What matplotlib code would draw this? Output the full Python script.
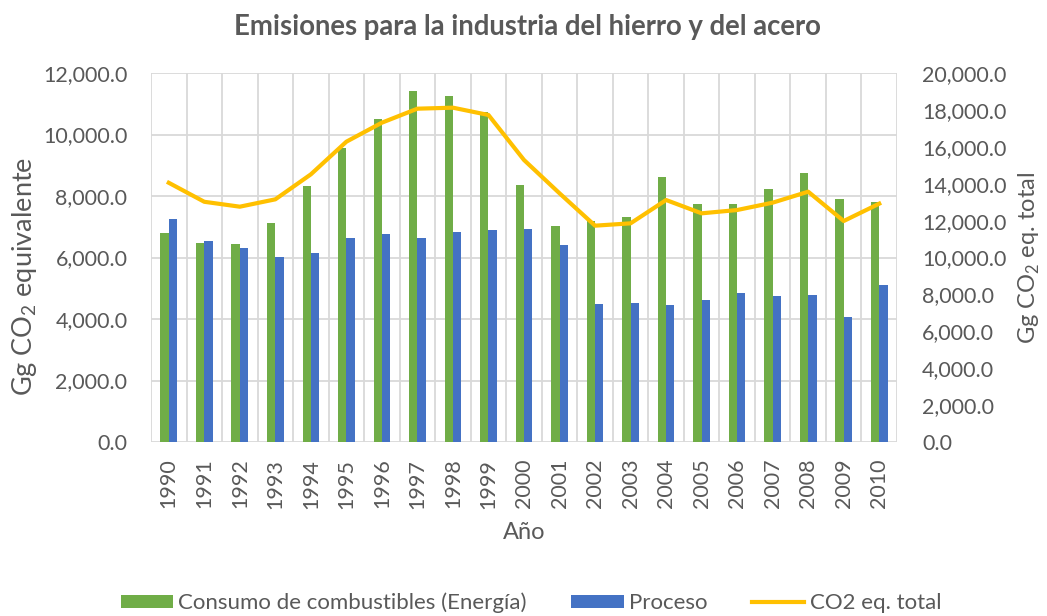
import numpy as np
import matplotlib
import matplotlib.pyplot as plt
from matplotlib.ticker import FuncFormatter, MultipleLocator

matplotlib.use('Agg')

# Data
years = [str(y) for y in range(1990, 2011)]
energia = [6790, 6480, 6440, 7110, 8336, 9560, 10500, 11400, 11260, 10740, 8347,
           7014, 7176, 7328, 8607, 7750, 7740, 8228, 8748, 7913, 7794]
proceso = [7240, 6526, 6298, 6016, 6146, 6645, 6764, 6623, 6818, 6894, 6916,
           6396, 4477, 4510, 4455, 4618, 4846, 4748, 4780, 4065, 5095]
total = [14050, 13020, 12754, 13153, 14507, 16277, 17308, 18066, 18120, 17724, 15285,
         13480, 11725, 11852, 13116, 12394, 12574, 12972, 13567, 11978, 12918]

# Style
GREEN = '#70AD47'
BLUE = '#4472C4'
GOLD = '#FFC000'
GRID = '#D9D9D9'
TEXT = '#595959'
plt.rcParams['font.family'] = ['Lato', 'DejaVu Sans']
plt.rcParams['mathtext.fontset'] = 'custom'
plt.rcParams['mathtext.rm'] = 'Lato'

fmt = FuncFormatter(lambda v, pos: f'{v:,.1f}')

fig = plt.figure(figsize=(10.47, 6.16), dpi=100)
ax = fig.add_axes([151 / 1047, 1 - 442 / 616, (897 - 151) / 1047, (442 - 73) / 616])
ax2 = ax.twinx()

x = np.arange(len(years))
w = 0.235
ax.bar(x - w / 2, energia, w, color=GREEN, zorder=3, label='Consumo de combustibles (Energía)')
ax.bar(x + w / 2, proceso, w, color=BLUE, zorder=3, label='Proceso')
ax2.plot(x, total, color=GOLD, lw=3, solid_joinstyle='round', label='CO2 eq. total')

ax.set_xlim(-0.5, len(years) - 0.5)
ax.set_ylim(0, 12000)
ax2.set_ylim(0, 20000)
ax.yaxis.set_major_locator(MultipleLocator(2000))
ax2.yaxis.set_major_locator(MultipleLocator(2000))
ax.yaxis.set_major_formatter(fmt)
ax2.yaxis.set_major_formatter(fmt)

ax.set_xticks(x)
ax.set_xticklabels(years, rotation=90)
ax.set_xticks(np.arange(-0.5, len(years)), minor=True)
ax.grid(axis='y', which='major', color=GRID, lw=1.3, zorder=0)
ax.grid(axis='x', which='minor', color=GRID, lw=1.3, zorder=0)
ax.set_axisbelow(True)

for a in (ax, ax2):
    for s in a.spines.values():
        s.set_visible(False)
    a.tick_params(which='both', length=0, labelsize=15.5, colors=TEXT)
ax.tick_params(axis='y', pad=17)
ax.tick_params(axis='x', pad=12)
ax2.tick_params(axis='y', pad=18)

ax.set_xlabel('Año', fontsize=17, color=TEXT, labelpad=10)
ax.set_ylabel('Gg CO$_\\mathregular{2}$ equivalente', fontsize=19.5, color=TEXT)
ax2.set_ylabel('Gg CO$_\\mathregular{2}$ eq. total', fontsize=17, color=TEXT)
ax.yaxis.set_label_coords(-0.150, 0.45)
ax2.yaxis.set_label_coords(1.16, 0.5)

fig.text(527 / 1047, 1 - 27 / 616, 'Emisiones para la industria del hierro y del acero',
         ha='center', va='center', fontsize=19.8, fontweight='bold', color=TEXT)

h1, l1 = ax.get_legend_handles_labels()
h2, l2 = ax2.get_legend_handles_labels()
fig.legend(h1 + h2, l1 + l2, loc='center', bbox_to_anchor=(531 / 1047, 1 - 603 / 616), ncol=3,
           frameon=False, fontsize=16, labelcolor=TEXT, handlelength=2.35, handleheight=0.55,
           handletextpad=0.25, columnspacing=2.0)

fig.savefig('out.png', dpi=100)
